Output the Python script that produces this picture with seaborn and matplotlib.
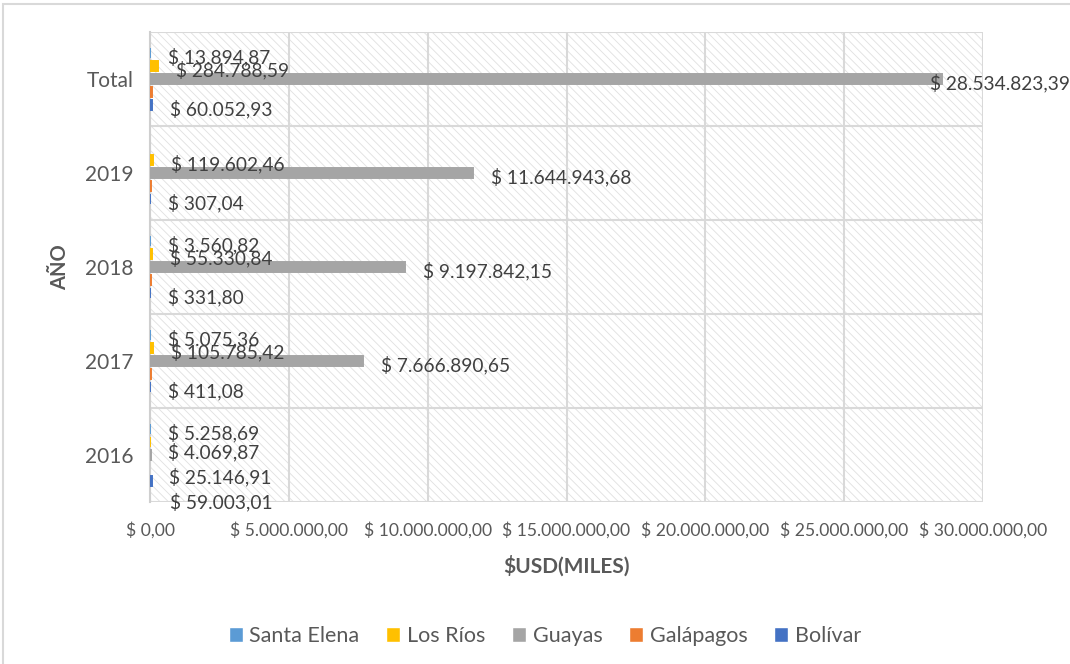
import numpy as np
import pandas as pd
import matplotlib
matplotlib.use("Agg")
import matplotlib.pyplot as plt
import seaborn as sns
from matplotlib.patches import Rectangle

# ---------------- data ----------------
years = ["Total", "2019", "2018", "2017", "2016"]
series = ["Santa Elena", "Los Ríos", "Guayas", "Galápagos", "Bolívar"]
santa_elena = [13894.87, 0.0, 3560.82, 5075.36, 5258.69]
los_rios = [284788.59, 119602.46, 55330.84, 105785.42, 4069.87]
guayas = [28534823.39, 11644943.68, 9197842.15, 7666890.65, 25146.91]
galapagos = [65000.0, 25000.0, 20000.0, 20000.0, 0.0]  # estimated (no labels shown)
bolivar = [60052.93, 307.04, 331.80, 411.08, 59003.01]
labelled_series = ["Santa Elena", "Los Ríos", "Guayas", "Bolívar"]
x_ticks = [0, 5e6, 10e6, 15e6, 20e6, 25e6, 30e6]
x_title = "$USD(MILES)"
y_title = "AÑO"

colors = ["#5B9BD5", "#FFC000", "#A5A5A5", "#ED7D31", "#4472C4"]

values = {"Santa Elena": santa_elena, "Los Ríos": los_rios, "Guayas": guayas,
          "Galápagos": galapagos, "Bolívar": bolivar}
df = pd.DataFrame([(y, s, values[s][i]) for s in series for i, y in enumerate(years)],
                  columns=["Año", "Serie", "Valor"])


def fmt(v):
    s = f"{v:,.2f}"
    s = s.replace(",", "X").replace(".", ",").replace("X", ".")
    return "$ " + s


# ---------------- style ----------------
sns.set_theme(style="white")
plt.rcParams["font.family"] = ["Lato", "DejaVu Sans"]
plt.rcParams["hatch.linewidth"] = 0.6

W, H = 1070, 664
L, R, T, B = 150, 983, 32, 502
fig = plt.figure(figsize=(W / 100, H / 100), dpi=100)
fig.patch.set_facecolor("white")
ax = fig.add_axes([L / W, 1 - B / H, (R - L) / W, (B - T) / H])

# hatched plot background
ax.add_patch(Rectangle((0, 0), 1, 1, transform=ax.transAxes, facecolor="white",
                       hatch="\\\\\\\\", edgecolor="#e0e0e0", lw=0, zorder=0))

sns.barplot(data=df, y="Año", x="Valor", hue="Serie", order=years, hue_order=series,
            palette=colors, orient="h", width=0.69, gap=0.2, errorbar=None,
            saturation=1, ax=ax, zorder=3)

# make very small (non-zero) bars visible, as Excel does
for cont in ax.containers:
    for bar in cont:
        if bar.get_width() > 0:
            bar.set_edgecolor(bar.get_facecolor())
            bar.set_linewidth(1.4)
        else:
            bar.set_visible(False)

ax.set_xlim(x_ticks[0], x_ticks[-1])
ax.set_ylim(len(years) - 0.5, -0.5)

# grid
for xv in x_ticks:
    ax.axvline(xv, color="#d9d9d9", lw=1.5, zorder=1)
for yv in np.arange(-0.5, len(years)):
    ax.axhline(yv, color="#d9d9d9", lw=1.5, zorder=1)

for sp in ax.spines.values():
    sp.set_visible(False)
ax.spines["left"].set_visible(True)
ax.spines["left"].set_color("#cfcfcf")
ax.spines["left"].set_linewidth(1.5)
ax.spines["left"].set_zorder(2)

ax.set_xticks(x_ticks)
ax.set_xticklabels([fmt(v) for v in x_ticks], fontsize=12.6, color="#595959")
ax.tick_params(axis="x", length=0, pad=14)
ax.tick_params(axis="y", length=0, pad=12, labelsize=15, labelcolor="#595959")

ax.set_xlabel(x_title, fontsize=15, fontweight="bold", color="#595959")
ax.xaxis.set_label_coords(0.5, -(566 - B) / (B - T))
ax.xaxis.label.set_va("center")
ax.set_ylabel(y_title, fontsize=14.5, fontweight="bold", color="#595959")
ax.yaxis.set_label_coords(-(L - 60) / (R - L), 0.5)
ax.yaxis.label.set_va("center")

# data labels (offsets in pixels; nudges reproduce Excel's collision layout)
px = 72 / 100
nudges = {("2016", "Los Ríos"): (0, 6), ("2016", "Guayas"): (0, 18),
          ("2016", "Bolívar"): (0, 17), ("Total", "Guayas"): (-30, 0)}
for s, cont in zip(series, ax.containers):
    if s not in labelled_series:
        continue
    for i, bar in enumerate(cont):
        v = values[s][i]
        if not v:
            continue
        ndx, ndy = nudges.get((years[i], s), (0, 0))
        xe = bar.get_x() + bar.get_width()
        yc = bar.get_y() + bar.get_height() / 2
        ax.annotate(fmt(v), (xe, yc), xytext=((18 + ndx) * px, -(4 + ndy) * px),
                    textcoords="offset points", ha="left", va="center",
                    fontsize=13.8, color="#404040", zorder=5, annotation_clip=False)

# legend
handles, labels = ax.get_legend_handles_labels()
ax.get_legend().remove()
leg = fig.legend(handles, labels, loc="center", bbox_to_anchor=(545 / W, 1 - 636 / H),
                 ncol=5, frameon=False, handlelength=0.65, handleheight=0.65,
                 handletextpad=0.3, columnspacing=1.25, fontsize=15.5)
for t in leg.get_texts():
    t.set_color("#595959")

# chart frame
fig.patches.append(Rectangle((3 / W, -0.2), 1.2, 1 - 4 / H + 0.2, transform=fig.transFigure,
                             fill=False, edgecolor="#d9d9d9", lw=1.5, zorder=0))

fig.savefig("out.png", dpi=100)
